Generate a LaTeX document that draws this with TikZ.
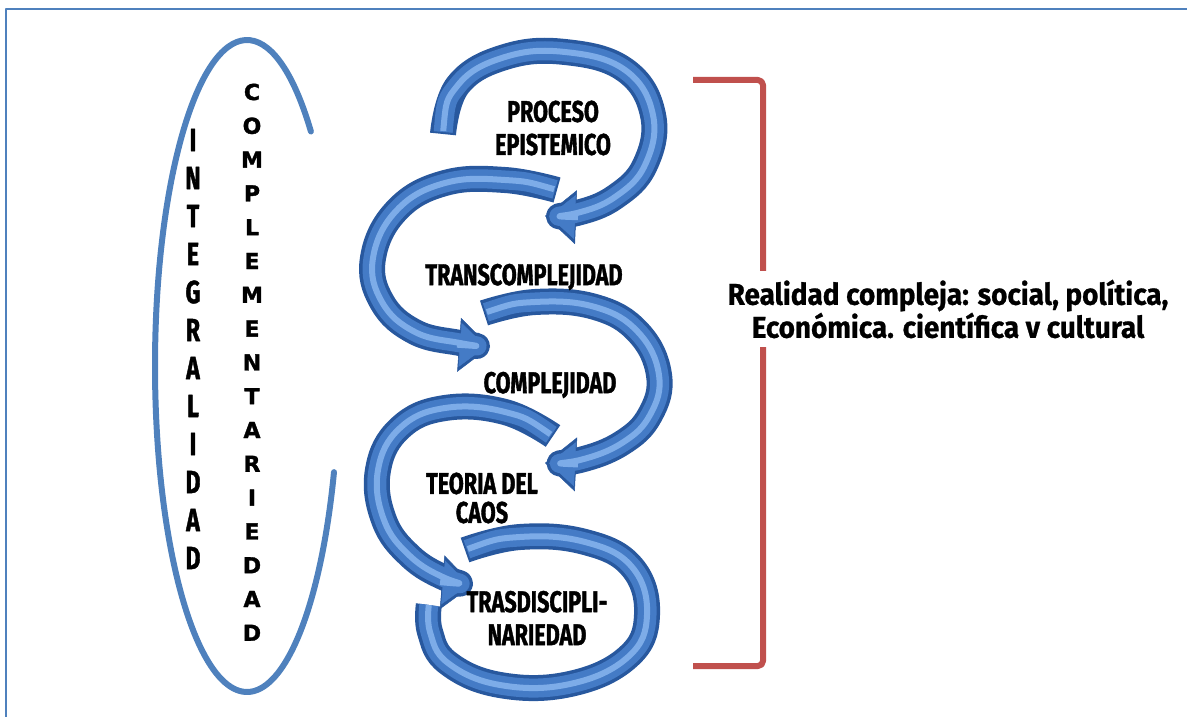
\documentclass[tikz,border=0pt]{standalone}
\usepackage{fontspec}
\usetikzlibrary{arrows.meta}
\newfontfamily\agency[FakeStretch=0.72,FakeBold=1.2]{Fira Sans}
\newfontfamily\realfont[FakeStretch=0.93,FakeBold=0.8]{Fira Sans}
\newfontfamily\heavyfont[FakeBold=1.5]{DejaVu Sans}
\definecolor{frameblue}{RGB}{79,129,189}
\definecolor{bracketred}{RGB}{192,80,77}
\definecolor{swirldark}{RGB}{40,88,158}
\definecolor{swirlmid}{RGB}{68,123,198}
\definecolor{swirllight}{RGB}{125,172,232}
\tikzset{
  swirl/.style={line width=26pt,draw=swirldark,-{Triangle[length=31pt,width=54pt,line width=0.5pt]}},
  swirlin/.style={line width=19pt,draw=swirlmid,shorten <=2pt,shorten >=4pt,-{Triangle[length=26pt,width=44pt,line width=0.5pt]}},
  swirlhi/.style={line width=6pt,draw=swirllight,shorten <=3pt,shorten >=33pt},
  swirltext/.style={font=\agency\bfseries\fontsize{30}{33}\selectfont,align=center,inner sep=1pt},
  realtext/.style={font=\realfont\bfseries\fontsize{30}{33}\selectfont,align=center},
  integletter/.style={font=\agency\bfseries\fontsize{32}{32}\selectfont,inner sep=0pt},
  completter/.style={font=\heavyfont\bfseries\fontsize{22}{22}\selectfont,inner sep=0pt},
  ringline/.style={draw=frameblue,line width=6pt,line cap=round},
  bracketline/.style={draw=bracketred,line width=6pt,rounded corners=5pt}
}
\newcommand{\swirlarrow}[2][]{%
  \draw[swirl,#1] plot[smooth,tension=0.7] coordinates {#2};
  \draw[swirlin,#1] plot[smooth,tension=0.7] coordinates {#2};
  \draw[swirlhi,#1] plot[smooth,tension=0.7] coordinates {#2};}
\begin{document}
\begin{tikzpicture}[x=1pt,y=-1pt,line join=round]
\useasboundingbox (0,0) rectangle (1187,717);
\draw[frameblue,line width=2.5pt] (6,717) -- (6,9) -- (1187,9);
\coordinate (ellc) at (247,366);
\draw[ringline] ([shift={(314:92 and 326)}]ellc) arc[start angle=314,end angle=19,x radius=92,y radius=326];
\foreach \l [count=\i] in {I,N,T,E,G,R,A,L,I,D,A,D}
  \node[integletter] (integ-\i) at (193,102+38*\i) {\l};
\foreach \l [count=\i] in {C,O,M,P,L,E,M,E,N,T,A,R,I,E,D,A,D}
  \node[completter] (comp-\i) at (252,58.2+33.8*\i) {\l};
\swirlarrow[-,shorten >=1pt]{(465,550) (520,537) (585,542) (632,567) (647,615) (628,657) (570,684) (500,685) (448,663) (430,632) (429,604)}
\swirlarrow{(553,436) (505,412) (445,408) (400,428) (378,470) (384,520) (410,556) (445,578) (473,585)}
\swirlarrow{(484,313) (535,302) (595,307) (638,332) (659,375) (650,415) (622,443) (580,460) (545,463)}
\swirlarrow{(557,190) (505,180) (445,183) (397,210) (373,258) (382,302) (415,332) (460,343) (490,347)}
\swirlarrow{(443,134) (458,85) (505,57) (565,52) (625,70) (653,115) (645,165) (615,197) (577,213) (545,216)}
\node[swirltext] (proceso) at (553,128) {PROCESO\\EPISTEMICO};
\node[swirltext] (transc) at (524,277) {TRANSCOMPLEJIDAD};
\node[swirltext] (complej) at (550,385) {COMPLEJIDAD};
\node[swirltext,font=\agency\bfseries\fontsize{30}{29}\selectfont] (caos) at (482,498) {TEORIA DEL\\CAOS};
\node[swirltext] (trasd) at (537,618) {TRASDISCIPLI-\\NARIEDAD};
\draw[bracketline] (693,80) -- (763,80) -- (763,666) -- (693,666);
\node[realtext,fill=white,inner xsep=2pt,inner ysep=9pt] (realidad) at (948,309)
  {Realidad compleja: social, política,\\Económica. científica v cultural};
\end{tikzpicture}
\end{document}
